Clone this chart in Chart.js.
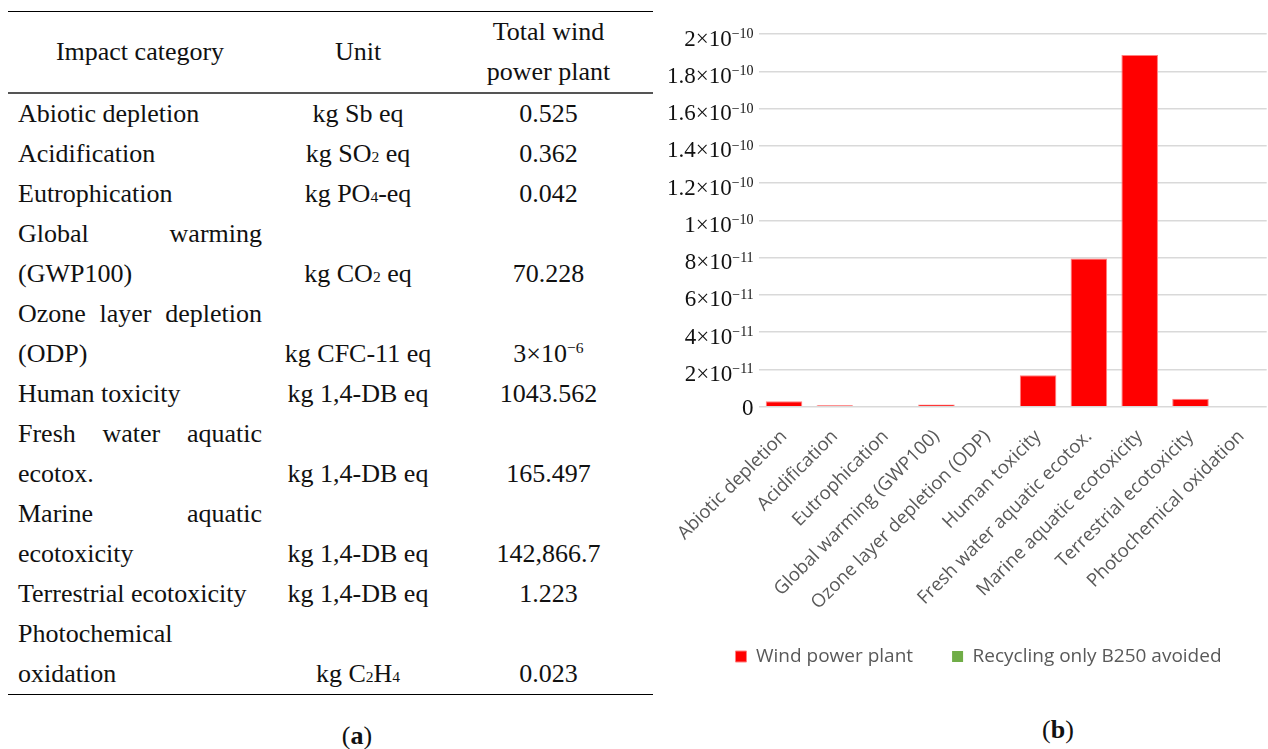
<!DOCTYPE html>
<html>
<head>
<meta charset="utf-8">
<script src="https://cdn.jsdelivr.net/npm/chart.js"></script>
<style>
  html, body { margin: 0; padding: 0; background: #fff; }
  body { width: 1268px; height: 749px; position: relative; overflow: hidden;
         font-family: "Liberation Serif", serif; color: #111; }
  #tbl { position: absolute; left: 8px; top: 11px; width: 645px; table-layout: fixed;
         border-collapse: collapse; font-size: 26px; line-height: 40px; }
  #tbl th, #tbl td { padding: 0; font-weight: normal; }
  #tbl thead tr { border-top: 1px solid #000; border-bottom: 2px solid #555; }
  #tbl tbody tr:last-child { border-bottom: 1.5px solid #000; }
  #tbl th { text-align: center; vertical-align: middle; }
  #tbl td.cat { text-align: justify; padding: 0 10px; }
  #tbl td.unit, #tbl td.val { text-align: center; vertical-align: bottom; }
  sub { font-size: 0.6em; vertical-align: baseline; line-height: 0; }
  sup { font-size: 0.6em; vertical-align: 0.55em; line-height: 0; }
  .cap { position: absolute; font-size: 26px; line-height: 30px; transform: translateX(-50%); }
  #chartBox { position: absolute; left: 660px; top: 0; width: 608px; height: 693px; }
</style>
</head>
<body>
<table id="tbl">
  <colgroup><col style="width:264px"><col style="width:172px"><col style="width:209px"></colgroup>
  <thead>
    <tr><th>Impact category</th><th>Unit</th><th>Total wind<br>power plant</th></tr>
  </thead>
  <tbody id="tbody"></tbody>
</table>
<div class="cap" style="left:357px; top:721px">(<b>a</b>)</div>
<div class="cap" style="left:1058px; top:715px">(<b>b</b>)</div>
<div id="chartBox"><canvas id="myChart"></canvas></div>

<script>
// impact categories (shared by table a and chart b)
const categories = ['Abiotic depletion', 'Acidification', 'Eutrophication', 'Global warming (GWP100)',
  'Ozone layer depletion (ODP)', 'Human toxicity', 'Fresh water aquatic ecotox.',
  'Marine aquatic ecotoxicity', 'Terrestrial ecotoxicity', 'Photochemical oxidation'];

// table (a)
const tableUnits = ['kg Sb eq', 'kg SO<sub>2</sub> eq', 'kg PO<sub>4</sub>-eq', 'kg CO<sub>2</sub> eq',
  'kg CFC-11 eq', 'kg 1,4-DB eq', 'kg 1,4-DB eq', 'kg 1,4-DB eq', 'kg 1,4-DB eq', 'kg C<sub>2</sub>H<sub>4</sub>'];
const tableTotals = ['0.525', '0.362', '0.042', '70.228', '3×10<sup>−6</sup>', '1043.562', '165.497',
  '142,866.7', '1.223', '0.023'];

// chart (b)
const windPowerPlant = [2.9e-12, 0.7e-12, 0, 1.2e-12, 0, 1.69e-11, 7.95e-11, 1.887e-10, 4.3e-12, 0];
const recyclingB250 = [0, 0, 0, 0, 0, 0, 0, 0, 0, 0];
const yTickLabels = ['0', '2×10⁻¹¹', '4×10⁻¹¹', '6×10⁻¹¹', '8×10⁻¹¹', '1×10⁻¹⁰',
  '1.2×10⁻¹⁰', '1.4×10⁻¹⁰', '1.6×10⁻¹⁰', '1.8×10⁻¹⁰', '2×10⁻¹⁰'];

// build table rows
const tbody = document.getElementById('tbody');
categories.forEach((cat, i) => {
  const tr = document.createElement('tr');
  tr.innerHTML = `<td class="cat">${cat}</td><td class="unit">${tableUnits[i]}</td><td class="val">${tableTotals[i]}</td>`;
  tbody.appendChild(tr);
});

// legend sits a bit right of the canvas centre and closer to the labels in the original
const legendShift = {
  id: 'legendShift',
  afterLayout(chart) {
    chart.legend.left += 28;
    chart.legend.top -= 17;
    chart.legend.bottom -= 17;
  }
};

// y labels drawn as mantissa + small raised exponent (same font throughout)
const supMap = {'⁻': '−', '⁰': '0', '¹': '1', '²': '2', '³': '3', '⁴': '4',
  '⁵': '5', '⁶': '6', '⁷': '7', '⁸': '8', '⁹': '9'};
const sciTicks = {
  id: 'sciTicks',
  afterDraw(chart) {
    const scale = chart.scales.y;
    const c = chart.ctx;
    c.save();
    c.fillStyle = '#111';
    c.textAlign = 'right';
    c.textBaseline = 'alphabetic';
    scale.ticks.forEach((t, i) => {
      const label = yTickLabels[i];
      const base = label.replace(/[⁻⁰¹²³⁴⁵⁶⁷⁸⁹]/g, '');
      const exp = [...label].filter(ch => supMap[ch]).map(ch => supMap[ch]).join('');
      const y = scale.getPixelForTick(i);
      const xr = scale.right - 5;
      c.font = '14px "Liberation Serif"';
      const ew = exp ? c.measureText(exp).width : 0;
      if (exp) c.fillText(exp, xr, y + 4);
      c.font = '23px "Liberation Serif"';
      c.fillText(base, xr - ew, exp ? y + 11.5 : y + 8.5);
    });
    c.restore();
  }
};

const ctx = document.getElementById('myChart');

new Chart(ctx, {
  type: 'bar',
  data: {
    labels: categories,
    datasets: [{
      label: 'Wind power plant',
      backgroundColor: '#ff0000',
      borderColor: '#ff8080',
      borderWidth: (c) => (c.raw > 0 ? 1 : 0),
      data: windPowerPlant,
    },
    {
      label: 'Recycling only B250 avoided',
      backgroundColor: '#70ad47',
      borderWidth: 0,
      data: recyclingB250,
    }]
  },
  options: {
    responsive: true,
    maintainAspectRatio: false,
    animation: false,
    layout: {
      padding: { top: 34, left: 1, right: 0, bottom: 0 }
    },
    plugins: {
      legend: {
        position: 'bottom',
        labels: {
          boxWidth: 11,
          boxHeight: 11,
          padding: 39,
          color: '#595959',
          font: { family: 'Open Sans', size: 19 }
        }
      },
      tooltip: { enabled: false }
    },
    scales: {
      x: {
        stacked: true,
        categoryPercentage: 1,
        barPercentage: 0.665,
        grid: { display: false },
        border: { display: false },
        ticks: {
          maxRotation: 45,
          minRotation: 45,
          padding: 11,
          color: '#595959',
          font: { family: 'Open Sans', size: 18.5 }
        }
      },
      y: {
        min: 0,
        max: 2e-10,
        border: { display: false },
        grid: { color: '#d9d9d9', lineWidth: 1.5, drawTicks: false },
        ticks: {
          stepSize: 2e-11,
          padding: 5,
          color: 'rgba(0,0,0,0)',
          font: { family: 'Liberation Serif', size: 23 },
          callback: (value, index) => yTickLabels[index]
        }
      }
    }
  },
  plugins: [legendShift, sciTicks]
});
</script>
</body>
</html>
